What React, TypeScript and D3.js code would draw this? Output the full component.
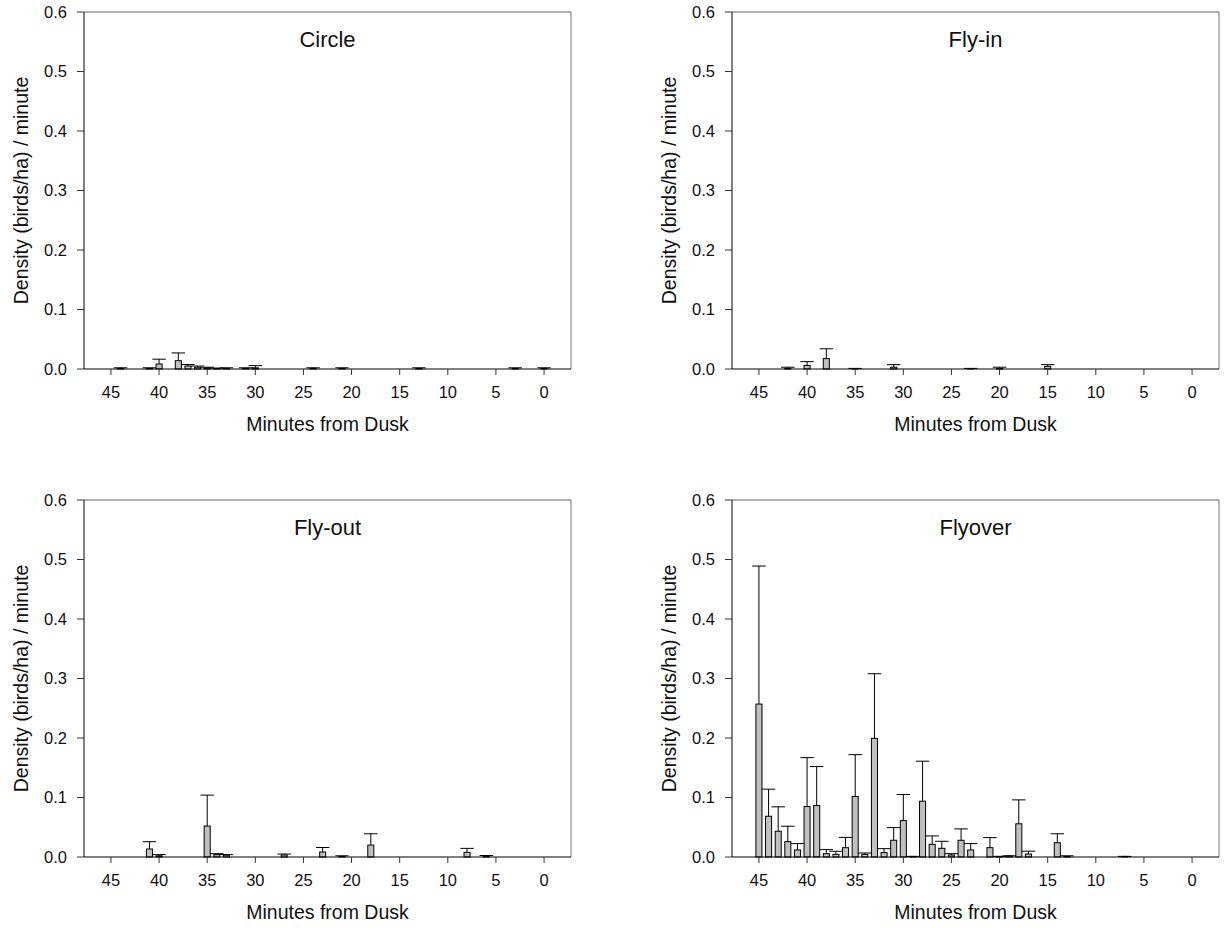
import React from "react";
import * as d3 from "d3";

// ---------- DATA ----------
const xTicks = [45, 40, 35, 30, 25, 20, 15, 10, 5, 0];
const yTicks = [0, 0.1, 0.2, 0.3, 0.4, 0.5, 0.6];

const circleMin = [44, 41, 40, 38, 37, 36, 35, 34, 33, 31, 30, 24, 21, 13, 3, 0];
const circleVal = [0.001, 0.001, 0.0084, 0.014, 0.005, 0.003, 0.002, 0.001, 0.001, 0.001, 0.002, 0.001, 0.001, 0.001, 0.001, 0.001];
const circleErr = [0.002, 0.002, 0.0165, 0.027, 0.0075, 0.005, 0.003, 0.0015, 0.002, 0.002, 0.0056, 0.002, 0.002, 0.002, 0.002, 0.002];

const flyinMin = [42, 40, 38, 35, 31, 23, 20, 15];
const flyinVal = [0.001, 0.006, 0.0174, 0.0005, 0.003, 0.0005, 0.001, 0.0045];
const flyinErr = [0.003, 0.0124, 0.034, 0.001, 0.0073, 0.001, 0.003, 0.0073];

const flyoutMin = [41, 40, 35, 34, 33, 27, 23, 21, 18, 8, 6];
const flyoutVal = [0.0134, 0.002, 0.052, 0.004, 0.003, 0.0034, 0.0084, 0.001, 0.02, 0.0078, 0.001];
const flyoutErr = [0.0257, 0.004, 0.104, 0.0056, 0.004, 0.005, 0.016, 0.002, 0.039, 0.0145, 0.0025];

const flyoverMin = [45, 44, 43, 42, 41, 40, 39, 38, 37, 36, 35, 34, 33, 32, 31, 30, 29, 28, 27, 26, 25, 24, 23, 21, 20, 19, 18, 17, 14, 13, 7];
const flyoverVal = [0.257, 0.0685, 0.0433, 0.0258, 0.0118, 0.0848, 0.0865, 0.0056, 0.0045, 0.0157, 0.1017, 0.0045, 0.1994, 0.0073, 0.0281, 0.0612, 0.001, 0.0938, 0.0213, 0.0146, 0.0034, 0.0281, 0.0118, 0.0157, 0.001, 0.002, 0.0558, 0.005, 0.024, 0.001, 0.001];
const flyoverErr = [0.489, 0.114, 0.0843, 0.0517, 0.0225, 0.167, 0.152, 0.0124, 0.0096, 0.033, 0.172, 0.0067, 0.308, 0.014, 0.0494, 0.105, 0.001, 0.161, 0.0354, 0.0264, 0.0056, 0.0472, 0.0225, 0.0326, 0.001, 0.002, 0.096, 0.0098, 0.039, 0.002, 0.001];

const panels = [
  { title: "Circle", mins: circleMin, vals: circleVal, errs: circleErr, left: 84, top: 12 },
  { title: "Fly-in", mins: flyinMin, vals: flyinVal, errs: flyinErr, left: 732, top: 12 },
  { title: "Fly-out", mins: flyoutMin, vals: flyoutVal, errs: flyoutErr, left: 84, top: 500 },
  { title: "Flyover", mins: flyoverMin, vals: flyoverVal, errs: flyoverErr, left: 732, top: 500 },
];

const W = 487;
const H = 357;
const FONT = "Liberation Sans, Arial, sans-serif";

function Panel({ p }: { p: (typeof panels)[number] }) {
  const x = d3.scaleLinear().domain([47.8, -2.8]).range([0, W]);
  const y = d3.scaleLinear().domain([0, 0.6]).range([H, 0]);
  const bw = Math.abs(x(0) - x(0.63));
  const cw = Math.abs(x(0) - x(1.4));
  const fmt = d3.format(".1f");
  return (
    <g transform={`translate(${p.left},${p.top})`}>
      {/* frame */}
      <line x1={0} y1={0} x2={W} y2={0} stroke="#666" strokeWidth={1} />
      <line x1={W} y1={0} x2={W} y2={H} stroke="#777" strokeWidth={1} />
      {/* bars */}
      {p.mins.map((m, i) => {
        const cx = x(m);
        const yv = y(p.vals[i]);
        const ye = y(p.errs[i]);
        return (
          <g key={i}>
            <line x1={cx} x2={cx} y1={yv} y2={ye} stroke="#000" strokeWidth={1} />
            <line x1={cx - cw / 2} x2={cx + cw / 2} y1={ye} y2={ye} stroke="#000" strokeWidth={1} />
            <rect x={cx - bw / 2} y={yv} width={bw} height={H - yv} fill="#c0c0c0" stroke="#000" strokeWidth={1} />
          </g>
        );
      })}
      {/* axes */}
      <line x1={0} y1={0} x2={0} y2={H} stroke="#000" strokeWidth={1} />
      <line x1={0} y1={H} x2={W} y2={H} stroke="#000" strokeWidth={1} />
      {yTicks.map((t) => (
        <g key={t}>
          <line x1={-7} x2={0} y1={y(t)} y2={y(t)} stroke="#333" strokeWidth={1} />
          <text x={-17} y={y(t)} dy="0.35em" textAnchor="end" fontSize={16.5} fontFamily={FONT} fill="#111">
            {fmt(t)}
          </text>
        </g>
      ))}
      {xTicks.map((t) => (
        <g key={t}>
          <line x1={x(t)} x2={x(t)} y1={H} y2={H + 6} stroke="#333" strokeWidth={1} />
          <text x={x(t)} y={H + 29} textAnchor="middle" fontSize={16.5} fontFamily={FONT} fill="#111">
            {t}
          </text>
        </g>
      ))}
      <text x={W / 2} y={H + 62} textAnchor="middle" fontSize={19.5} fontFamily={FONT} fill="#111">
        Minutes from Dusk
      </text>
      <text
        transform={`translate(${-56},${H / 2}) rotate(-90)`}
        textAnchor="middle"
        fontSize={19.5}
        fontFamily={FONT}
        fill="#111"
      >
        Density (birds/ha) / minute
      </text>
      <text x={W / 2} y={35} textAnchor="middle" fontSize={22} fontFamily={FONT} fill="#111">
        {p.title}
      </text>
    </g>
  );
}

export default function App() {
  return (
    <svg
      width={1225}
      height={932}
      style={{ position: "absolute", left: 0, top: 0, background: "#fff" }}
    >
      <rect width={1225} height={932} fill="#fff" />
      {panels.map((p) => (
        <Panel key={p.title} p={p} />
      ))}
    </svg>
  );
}
